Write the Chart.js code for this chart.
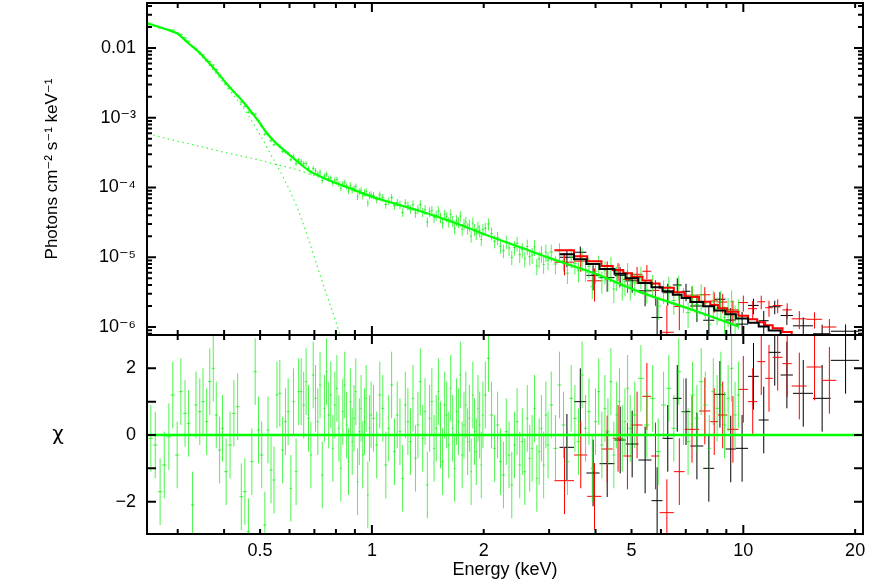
<!DOCTYPE html>
<html><head><meta charset="utf-8">
<script src="https://cdn.jsdelivr.net/npm/chart.js@4.4.1/dist/chart.umd.min.js"></script>
<style>
html,body{margin:0;padding:0;background:#fff;}
#wrap{position:relative;width:881px;height:581px;background:#fff;overflow:hidden;}
#top{position:absolute;left:0;top:0;}
#bot{position:absolute;left:0;top:335px;}
</style></head><body>
<div id="wrap"><canvas id="top" width="881" height="335"></canvas><canvas id="bot" width="881" height="246"></canvas></div>
<script>
// ---------- axes ----------
const xMin = 0.248, xMax = 21.0;
const yTopMin = 7.68e-7, yTopMax = 0.0442;
const chiMin = -2.97, chiMax = 3.0;
const xTickVals = [0.5, 1, 2, 5, 10, 20];
const xTickLabels = ['0.5', '1', '2', '5', '10', '20'];
const xMajorMarks = [1, 10];
const xMinorMarks = [0.3,0.4,0.5,0.6,0.7,0.8,0.9,2,3,4,5,6,7,8,9,20];
const yTopTickVals = [1e-6, 1e-5, 1e-4, 1e-3, 0.01];
const yTopTickLabels = ['10\u207B\u2076', '10\u207B\u2075', '10\u207B\u2074', '10\u207B\u00B3', '0.01'];
const yDecades = [1e-7, 1e-6, 1e-5, 1e-4, 1e-3, 1e-2];
const yMinorMult = [2,3,4,5,6,7,8,9];
const chiTickVals = [-2, 0, 2];
const chiTickLabels = ['\u22122', '0', '2'];
const chiMarks = [-2, -1, 0, 1, 2];
const yTitleTop = 'Photons cm\u207B\u00B2 s\u207B\u00B9 keV\u207B\u00B9';
const yTitleBot = '\u03C7';
const xTitle = 'Energy (keV)';

// ---------- green data set (energy keV) ----------
const gE_A = [0.254,0.261,0.269,0.276,0.284,0.291,0.299,0.306,0.314,0.321,0.329,0.336,0.344,0.351,0.359,0.366,0.374,0.381,0.389,0.396,0.405,0.415,0.425,0.435,0.445,0.455,0.465,0.475,0.485,0.495,0.505,0.515,0.525,0.535,0.545,0.555,0.565,0.575,0.585,0.595,0.605,0.615,0.625,0.635];
const gE_B = [0.645,0.655,0.665,0.675,0.685,0.695,0.705,0.715,0.725,0.735,0.745,0.755,0.765,0.775,0.785,0.795,0.805,0.815,0.825,0.835,0.845,0.855,0.865,0.875,0.885,0.895,0.905,0.915,0.925,0.935,0.945,0.955,0.965,0.975,0.985,0.995];
const gE_C = [1.01,1.03,1.05,1.07,1.09,1.11,1.13,1.15,1.17,1.19,1.21,1.23,1.25,1.27,1.29,1.31,1.33,1.35,1.37,1.39,1.41,1.43,1.45,1.47,1.49,1.51,1.53,1.55,1.57,1.59,1.61,1.63,1.65,1.67,1.69,1.71,1.73,1.75,1.77,1.79,1.81,1.83,1.85,1.87,1.89,1.91,1.93,1.95,1.97,1.99];
const gE_D = [2.02,2.06,2.10,2.14,2.18,2.22,2.26,2.30,2.34,2.38,2.42,2.46,2.50,2.54,2.58,2.62,2.66,2.70,2.74,2.78,2.82,2.86,2.90,2.94,2.98];
const gE_E = [3.04,3.12,3.20,3.28,3.36,3.44,3.52,3.60,3.68,3.76,3.84,3.92,4.00,4.08,4.16,4.24,4.32,4.40,4.48,4.56,4.64,4.72,4.80,4.88,4.96];
const gE_F = [5.1,5.3,5.5,5.7,5.9,6.1,6.3,6.5,6.7,6.9,7.1,7.3,7.5,7.7,7.9,8.1,8.3,8.5,8.7,8.9,9.1,9.3,9.5,9.7];

const gF_A = [0.0217,0.0209,0.0194,0.0190,0.0184,0.0181,0.0164,0.0157,0.0140,0.0125,0.0105,0.0099,0.0087,0.0080,0.0068,0.0064,0.0057,0.0049,0.0041,0.0037,0.0031,0.00268,0.00235,0.00207,0.00167,0.00146,0.00120,0.00116,0.00113,0.00091,0.00076,0.00058,0.00058,0.00047,0.00041,0.00042,0.00039,0.00033,0.00033,0.00031,0.00025,0.00028,0.00022,0.00025];
const gF_B = [2.37e-4,2.20e-4,2.20e-4,1.87e-4,1.64e-4,1.88e-4,1.74e-4,1.57e-4,1.66e-4,1.26e-4,1.47e-4,1.55e-4,1.35e-4,1.37e-4,1.15e-4,1.28e-4,1.30e-4,1.13e-4,0.98e-4,1.13e-4,1.18e-4,1.04e-4,0.90e-4,1.07e-4,0.92e-4,0.97e-4,1.03e-4,0.74e-4,0.87e-4,0.91e-4,0.76e-4,0.84e-4,0.88e-4,0.60e-4,0.77e-4,0.79e-4];
const gF_C = [7.7e-5,6.7e-5,7.8e-5,7.2e-5,5.7e-5,6.4e-5,7.2e-5,5.5e-5,6.1e-5,5.7e-5,4.4e-5,6.0e-5,5.5e-5,4.9e-5,5.7e-5,4.3e-5,4.9e-5,5.7e-5,4.4e-5,4.8e-5,3.2e-5,4.5e-5,4.7e-5,3.7e-5,4.0e-5,4.6e-5,3.7e-5,3.1e-5,4.1e-5,3.8e-5,3.2e-5,4.1e-5,3.3e-5,2.6e-5,3.4e-5,3.2e-5,3.9e-5,2.5e-5,3.0e-5,3.2e-5,2.6e-5,2.9e-5,2.0e-5,3.1e-5,2.5e-5,2.2e-5,2.7e-5,2.4e-5,1.8e-5,2.5e-5];
const gF_D = [2.6e-5,3.0e-5,2.2e-5,1.7e-5,1.9e-5,1.44e-5,1.24e-5,1.68e-5,1.36e-5,1.0e-5,1.38e-5,1.58e-5,1.09e-5,1.29e-5,0.95e-5,1.43e-5,1.02e-5,1.08e-5,1.41e-5,0.75e-5,0.95e-5,1.14e-5,0.79e-5,1.19e-5,0.91e-5];
const gF_E = [1.19e-5,8.0e-6,1.23e-5,8.9e-6,5.9e-6,1.01e-5,8.2e-6,6.4e-6,1.02e-5,6.7e-6,7.4e-6,3.8e-6,6.3e-6,7.8e-6,4.6e-6,6.4e-6,5.0e-6,7.4e-6,3.5e-6,5.3e-6,5.8e-6,3.9e-6,4.5e-6,5.9e-6,4.0e-6];
const gF_F = [4.3e-6,5.4e-6,3.4e-6,4.1e-6,2.0e-6,3.4e-6,3.8e-6,2.4e-6,3.9e-6,2.6e-6,1.6e-6,2.8e-6,2.1e-6,2.9e-6,2.2e-6,1.1e-6,2.3e-6,1.85e-6,2.3e-6,1.37e-6,1.8e-6,2.3e-6,1.4e-6,1.7e-6];

// relative 1-sigma flux errors (%)
const gErr_A = [2,2,2,2,2,2,2,2,2,2,2,2,3,3,3,3,3,3,3,3,3,3,3,4,4,4,4,4,4,4,5,5,5,5,5,5,6,6,6,6,6,7,7,7];
const gErr_B = [8,8,8,8,8,8,9,9,9,9,9,9,9,9,10,10,10,10,10,10,10,10,11,11,11,11,11,11,11,11,12,12,12,12,12,12];
const gErr_C = [12,12,12,12,13,13,13,13,13,14,14,14,14,14,15,15,15,15,15,16,16,16,16,16,16,17,17,17,17,17,17,18,18,18,18,18,18,19,19,19,19,19,19,20,20,20,20,20,20,20];
const gErr_D = [20,20,21,21,21,22,22,22,23,23,23,24,24,24,25,25,25,26,26,26,27,27,27,28,28];
const gErr_E = [28,29,29,30,30,31,31,32,32,33,33,34,34,35,35,36,36,37,37,38,38,39,39,40,40];
const gErr_F = [35,35,36,36,37,37,38,38,39,39,40,40,41,41,42,42,43,43,44,44,45,45,46,46];

// residuals (chi)
const gChi_A = [-0.1,-0.3,-1.7,-0.9,-0.05,1.2,-0.6,1.3,0.65,0.35,-2.1,0.9,0.7,1.0,0.4,1.6,2.0,0.6,-0.45,0.2,-1.1,-0.3,0.65,0.85,-1.85,-1.7,-2.9,-0.8,1.9,0.15,-0.6,-2.7,0.15,-1.05,-1.35,1.2,1.25,-0.45,0.4,0.7,-1.6,1.0,-1.1,1.3];
const gChi_B = [1.3,0.9,1.6,0.5,-0.6,1.8,1.1,0.4,1.5,-1.2,0.8,1.9,0.6,1.2,-0.4,0.9,1.4,0.2,-1.0,0.7,1.5,0.3,-0.8,1.0,-0.2,0.5,1.3,-1.4,0.1,0.8,-0.6,0.4,1.1,-1.8,0.2,0.6];
const gChi_C = [0.5,-0.3,1.2,0.8,-0.9,0.2,1.5,-0.5,0.6,0.1,-1.3,0.9,0.4,-0.2,1.1,-0.7,0.3,1.6,-0.1,0.7,-1.5,0.5,1.0,-0.4,0.2,1.3,0.0,-0.8,0.9,0.6,-0.3,1.4,0.2,-1.0,0.7,0.4,1.8,-0.6,0.3,0.9,-0.2,0.5,-1.1,1.2,0.1,-0.5,0.8,0.3,-0.9,0.6];
const gChi_D = [1.2,2.3,0.6,-0.4,0.3,-0.8,-1.2,0.1,-0.6,-1.5,-0.3,0.4,-0.9,-0.2,-1.1,0.5,-0.7,-0.4,0.8,-1.3,-0.5,0.2,-0.9,0.6,-0.3];
const gChi_E = [0.9,-0.4,1.5,0.3,-0.8,1.1,0.5,-0.2,1.8,0.2,0.7,-1.0,0.4,1.3,-0.3,0.8,0.1,1.6,-0.6,0.6,1.0,-0.1,0.4,1.4,0.2];
const gChi_F = [0.6,1.7,0.3,1.1,-0.5,0.9,1.4,0.2,1.9,0.7,-0.2,1.2,0.5,1.6,0.9,-0.4,1.3,0.8,1.5,0.3,1.1,2.0,0.6,1.2];

// green model (total) and its two components
const gModelE = [0.248,0.27,0.29,0.298,0.32,0.344,0.372,0.406,0.43,0.45,0.469,0.50,0.521,0.555,0.583,0.61,0.64,0.68,0.72,0.785,0.85,0.9,1.0,1.1,1.2,1.3,1.4,1.5,1.6,1.8,2.0,2.5,3.0,4.0,5.27,7.0,9.7];
const gModelF = [0.0228,0.0197,0.0173,0.0164,0.0118,0.0085,0.0054,0.0031,0.0022,0.0017,0.00129,0.00083,0.000604,0.00042,0.000335,0.000272,0.00022,0.000172,0.000147,0.000120,0.000103,0.000091,0.000074,0.000063,0.000055,0.0000485,0.000043,0.000038,0.000034,0.000027,0.0000215,0.0000140,0.0000098,0.0000058,0.00000316,0.0000019,0.00000102];
const bbE = [0.25,0.30,0.344,0.406,0.45,0.50,0.531,0.576,0.628,0.672,0.733,0.82,0.86];
const bbF = [0.0215,0.0160,0.0081,0.0028,0.0014,0.00057,0.000315,0.000143,0.000053,0.0000194,0.0000047,0.00000077,0.0000003];
const plE = [0.25,0.30,0.344,0.40,0.45,0.50,0.55,0.60,0.64,0.68,0.72,0.785,0.85,0.9,1.0,1.2,1.5,2.0,3.0,5.27,9.7];
const plF = [5.9e-4,4.6e-4,3.9e-4,3.2e-4,2.8e-4,2.46e-4,2.15e-4,1.92e-4,1.75e-4,1.55e-4,1.42e-4,1.18e-4,1.02e-4,9.0e-5,7.3e-5,5.4e-5,3.75e-5,2.12e-5,9.7e-6,3.13e-6,1.0e-6];

// ---------- black data set ----------
const bEdges = [3.20,3.50,3.78,4.10,4.50,4.82,5.22,5.66,6.06,6.46,6.82,7.20,7.80,8.35,8.95,9.55,10.3,11.0,11.7,12.6,13.6,15.4,17.2,20.5];
const bModel = [1.10e-5,9.35e-6,8.0e-6,6.76e-6,5.78e-6,5.0e-6,4.27e-6,3.70e-6,3.25e-6,2.90e-6,2.61e-6,2.28e-6,1.98e-6,1.73e-6,1.52e-6,1.32e-6,1.15e-6,1.02e-6,8.9e-7,7.7e-7,6.3e-7,5.0e-7,3.8e-7];
const bFlux = [1.0e-5,1.18e-5,5.5e-6,5.1e-6,5.5e-6,4.6e-6,3.3e-6,1.37e-6,3.1e-6,4.0e-6,3.25e-6,2.0e-6,1.25e-6,2.5e-6,1.26e-6,1.1e-6,2.04e-6,1.23e-6,1.95e-6,1.46e-6,1.04e-6,8.0e-7,8.7e-7];
const bSig = [2.75e-6,2.43e-6,2.16e-6,1.89e-6,1.68e-6,1.5e-6,1.32e-6,1.18e-6,1.07e-6,9.9e-7,9.1e-7,8.2e-7,7.3e-7,6.6e-7,6.1e-7,5.5e-7,5.1e-7,4.7e-7,4.3e-7,3.9e-7,3.3e-7,2.8e-7,2.2e-7];
const bChi = [-0.37,1.0,-1.14,-0.86,-0.15,-0.27,-0.75,-1.97,-0.1,1.1,0.7,-0.33,-1.0,1.22,-0.42,-0.4,1.76,0.45,2.48,1.8,1.25,1.1,2.24];

// ---------- red data set ----------
const rEdges = [3.10,3.50,3.80,4.15,4.45,4.75,5.00,5.35,5.65,5.95,6.50,6.95,7.60,8.15,8.55,9.05,9.70,10.3,10.9,11.45,12.0,12.75,13.5,14.8,16.3,17.8];
const rModel = [1.26e-5,1.035e-5,8.77e-6,7.52e-6,6.59e-6,5.89e-6,5.24e-6,4.65e-6,4.19e-6,3.65e-6,3.14e-6,2.70e-6,2.31e-6,2.06e-6,1.86e-6,1.65e-6,1.45e-6,1.29e-6,1.17e-6,1.06e-6,9.6e-7,8.5e-7,7.4e-7,6.1e-7,5.1e-7];
const rFlux = [8.5e-6,8.8e-6,4.6e-6,6.7e-6,6.4e-6,4.8e-6,5.7e-6,6.3e-6,3.35e-6,8.4e-7,1.97e-6,2.86e-6,2.9e-6,2.36e-6,2.28e-6,1.76e-6,2.24e-6,1.83e-6,2.3e-6,1.89e-6,2.03e-6,1.76e-6,1.31e-6,1.29e-6,1.0e-6];
const rSig = [3.0e-6,2.6e-6,2.28e-6,2.03e-6,1.85e-6,1.71e-6,1.57e-6,1.44e-6,1.34e-6,1.2e-6,1.07e-6,9.5e-7,8.3e-7,7.6e-7,7.1e-7,6.4e-7,5.8e-7,5.4e-7,5.1e-7,4.9e-7,4.6e-7,4.3e-7,3.8e-7,3.4e-7,3.0e-7];
const rChi = [-1.37,-0.6,-1.84,-0.42,-0.1,-0.63,0.3,1.16,-0.63,-2.33,-1.1,0.17,0.72,0.4,0.6,0.17,1.37,1.0,2.2,1.7,2.33,2.14,1.47,2.04,1.64];

// ---------- assemble ----------
const gE = [...gE_A, ...gE_B, ...gE_C, ...gE_D, ...gE_E, ...gE_F];
const gFlux = [...gF_A, ...gF_B, ...gF_C, ...gF_D, ...gF_E, ...gF_F];
const gErrPct = [...gErr_A, ...gErr_B, ...gErr_C, ...gErr_D, ...gErr_E, ...gErr_F];
const gChi = [...gChi_A, ...gChi_B, ...gChi_C, ...gChi_D, ...gChi_E, ...gChi_F];

function halfWidths(arr) {
  return arr.map((e, i) => {
    const prev = i > 0 ? arr[i-1] : e - (arr[1] - arr[0]);
    const next = i < arr.length - 1 ? arr[i+1] : e + (e - arr[i-1]);
    return (next - prev) / 4;
  });
}
const gHW = halfWidths(gE);
const POS = 1e-12;
function crosses(xc, xlo, xhi, yc, ylo, yhi, out, logY) {
  out.push({x: xlo, y: yc}, {x: xhi, y: yc}, {x: xc, y: null},
           {x: xc, y: logY ? Math.max(ylo, POS) : ylo}, {x: xc, y: yhi}, {x: xc, y: null});
}
function binnedCrosses(edges, vals, sig, logY) {
  const out = [];
  for (let i = 0; i < vals.length; i++) {
    const lo = edges[i], hi = edges[i+1], c = (lo + hi) / 2;
    crosses(c, lo, hi, vals[i], vals[i] - sig(i), vals[i] + sig(i), out, logY);
  }
  return out;
}
function steps(edges, vals) {
  const out = vals.map((v, i) => ({x: edges[i], y: v}));
  out.push({x: edges[edges.length-1], y: vals[vals.length-1]});
  return out;
}
function curve(xs, ys) { return xs.map((x, i) => ({x, y: ys[i]})); }

const gTop = [], gBot = [];
for (let i = 0; i < gE.length; i++) {
  const s = gFlux[i] * gErrPct[i] / 100;
  crosses(gE[i], gE[i]-gHW[i], gE[i]+gHW[i], gFlux[i], gFlux[i]-s, gFlux[i]+s, gTop, true);
  crosses(gE[i], gE[i]-gHW[i], gE[i]+gHW[i], gChi[i], gChi[i]-1, gChi[i]+1, gBot, false);
}
const bTop = binnedCrosses(bEdges, bFlux, i => bSig[i], true);
const bBot = binnedCrosses(bEdges, bChi, () => 1, false);
const rTop = binnedCrosses(rEdges, rFlux, i => rSig[i], true);
const rBot = binnedCrosses(rEdges, rChi, () => 1, false);

// ---------- styling ----------
const FONT = '"Liberation Sans", Arial, Helvetica, "DejaVu Sans", sans-serif';
Chart.defaults.font.family = FONT;
Chart.defaults.color = '#000';
const GREEN = '#00ff00';
const GREEN_BAR = 'rgba(0,240,0,0.7)';

function lineDS(data, color, width, extra) {
  return Object.assign({data, borderColor: color, backgroundColor: color, borderWidth: width,
    pointRadius: 0, pointHoverRadius: 0, fill: false, tension: 0, spanGaps: false, clip: 0}, extra || {});
}
function noPad(s) { s.paddingTop = 0; s.paddingBottom = 0; s.paddingLeft = 0; s.paddingRight = 0; }

const frameTicks = {
  id: 'frameTicks',
  afterDraw(chart, args, o) {
    const {ctx, chartArea: a, scales} = chart;
    const xs = scales.x, ys = scales.y;
    ctx.save();
    ctx.strokeStyle = '#000';
    ctx.lineWidth = 2;
    ctx.beginPath();
    const seg = (x1, y1, x2, y2) => { ctx.moveTo(x1, y1); ctx.lineTo(x2, y2); };
    const xt = (vals, len) => vals.forEach(v => {
      const p = xs.getPixelForValue(v);
      if (p < a.left || p > a.right) return;
      seg(p, a.bottom, p, a.bottom - len); seg(p, a.top, p, a.top + len);
    });
    const yt = (vals, len) => vals.forEach(v => {
      const p = ys.getPixelForValue(v);
      if (p < a.top - 0.5 || p > a.bottom + 0.5) return;
      seg(a.left, p, a.left + len, p); seg(a.right, p, a.right - len, p);
    });
    xt(o.xMajor, o.major); xt(o.xMinor, o.minor);
    yt(o.yMajor, o.major); yt(o.yMinor, o.minor);
    ctx.stroke();
    ctx.strokeRect(a.left, a.top, a.right - a.left, a.bottom - a.top);
    if (o.sideLabel) {
      ctx.fillStyle = '#000';
      ctx.font = '20px "DejaVu Sans", sans-serif';
      ctx.textAlign = 'center';
      ctx.textBaseline = 'middle';
      ctx.fillText(o.sideLabel, 58, ys.getPixelForValue(0));
    }
    ctx.restore();
  }
};

const yMinorTop = [];
yDecades.forEach(d => yMinorMult.forEach(m => { const v = d * m; if (v > yTopMin && v < yTopMax) yMinorTop.push(v); }));

function labelFor(vals, labels) {
  return (v) => { const i = vals.findIndex(t => Math.abs(t - v) <= Math.abs(t) * 1e-6 + 1e-12); return i >= 0 ? labels[i] : ''; };
}

// ---------- top chart ----------
new Chart(document.getElementById('top'), {
  type: 'line',
  data: { datasets: [
    lineDS(curve(gModelE, gModelF), GREEN, 2.2, {cubicInterpolationMode: 'monotone'}),
    lineDS(steps(bEdges, bModel), '#000', 2, {stepped: 'before'}),
    lineDS(steps(rEdges, rModel), '#ff0000', 2, {stepped: 'before'}),
    lineDS(curve(bbE, bbF), 'rgba(0,255,0,0.8)', 1.2, {borderDash: [1.5, 3.5], cubicInterpolationMode: 'monotone'}),
    lineDS(curve(plE, plF), 'rgba(0,255,0,0.8)', 1.2, {borderDash: [1.5, 3.5], cubicInterpolationMode: 'monotone'}),
    lineDS(gTop, GREEN_BAR, 1),
    lineDS(rTop, '#ff0000', 1),
    lineDS(bTop, '#000', 1)
  ]},
  options: {
    responsive: false, animation: false, devicePixelRatio: 1,
    layout: { padding: {left: 0, right: 18, top: 3, bottom: 0} },
    plugins: { legend: {display: false}, tooltip: {enabled: false},
      frameTicks: { xMajor: xMajorMarks, xMinor: xMinorMarks, yMajor: yTopTickVals, yMinor: yMinorTop, major: 9, minor: 5 } },
    events: [],
    scales: {
      x: { type: 'logarithmic', min: xMin, max: xMax, display: false, afterFit: noPad },
      y: { type: 'logarithmic', min: yTopMin, max: yTopMax,
        afterFit: s => { s.width = 147; noPad(s); },
        afterBuildTicks: s => { s.ticks = yTopTickVals.map(v => ({value: v})); },
        grid: {display: false, drawTicks: false}, border: {display: false},
        ticks: { autoSkip: false, padding: 11, font: {size: 18}, color: '#000', callback: labelFor(yTopTickVals, yTopTickLabels) },
        title: { display: true, text: yTitleTop, font: {size: 17}, color: '#000', padding: {top: 42, bottom: 0} }
      }
    }
  },
  plugins: [frameTicks]
});

// ---------- bottom chart ----------
new Chart(document.getElementById('bot'), {
  type: 'line',
  data: { datasets: [
    lineDS([{x: xMin, y: 0}, {x: xMax, y: 0}], GREEN, 2.5),
    lineDS(gBot, GREEN_BAR, 1),
    lineDS(rBot, '#ff0000', 1),
    lineDS(bBot, '#000', 1)
  ]},
  options: {
    responsive: false, animation: false, devicePixelRatio: 1,
    layout: { padding: {left: 0, right: 18, top: 0, bottom: 0} },
    plugins: { legend: {display: false}, tooltip: {enabled: false},
      frameTicks: { xMajor: xMajorMarks, xMinor: xMinorMarks, yMajor: chiMarks, yMinor: [], major: 9, minor: 5, sideLabel: yTitleBot } },
    events: [],
    scales: {
      x: { type: 'logarithmic', min: xMin, max: xMax, position: 'bottom',
        afterFit: s => { s.height = 47; noPad(s); },
        afterBuildTicks: s => { s.ticks = xTickVals.map(v => ({value: v})); },
        grid: {display: false, drawTicks: false}, border: {display: false},
        ticks: { autoSkip: false, maxRotation: 0, padding: 6, font: {size: 18}, color: '#000', callback: labelFor(xTickVals, xTickLabels) },
        title: { display: true, text: xTitle, font: {size: 18}, color: '#000', padding: {top: 0, bottom: 0} }
      },
      y: { type: 'linear', min: chiMin, max: chiMax,
        afterFit: s => { s.width = 147; noPad(s); },
        afterBuildTicks: s => { s.ticks = chiTickVals.map(v => ({value: v})); },
        grid: {display: false, drawTicks: false}, border: {display: false},
        ticks: { autoSkip: false, padding: 11, font: {size: 18}, color: '#000', callback: labelFor(chiTickVals, chiTickLabels) }
      }
    }
  },
  plugins: [frameTicks]
});
</script></body></html>
